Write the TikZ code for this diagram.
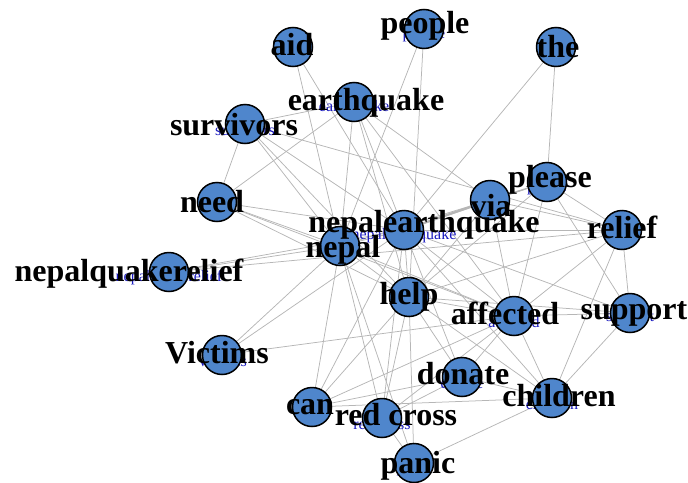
\documentclass[tikz,border=0pt]{standalone}
\usepackage{fontspec}
\setmainfont{Liberation Serif}
\definecolor{vblue}{RGB}{79,134,204}
\definecolor{edgegray}{RGB}{182,182,182}
\definecolor{idblue}{RGB}{25,25,190}
\tikzset{
  vertex/.style={circle, minimum size=39pt, inner sep=0pt, fill=vblue, draw=black, line width=1.5pt},
  link/.style={draw=edgegray, line width=0.75pt},
  heavy/.style={draw=edgegray, line width=2.2pt},
  bigtag/.style={anchor=base, inner sep=0pt, font=\fontsize{32}{32}\selectfont\bfseries},
  smalltag/.style={inner sep=0pt, text=idblue, font=\fontsize{16}{16}\selectfont}
}
\begin{document}
\begin{tikzpicture}[x=1pt,y=-1pt]
\useasboundingbox (0,0) rectangle (688,482);
% vertex positions
\coordinate (aid) at (293,47);
\coordinate (people) at (424,29);
\coordinate (the) at (556,47);
\coordinate (earthquake) at (354,102);
\coordinate (survivors) at (245,124);
\coordinate (need) at (217,202);
\coordinate (nqr) at (169,272);
\coordinate (victims) at (222,355);
\coordinate (can) at (312,407);
\coordinate (nepal) at (340,246);
\coordinate (ne) at (404,230);
\coordinate (help) at (409,297);
\coordinate (affected) at (514,316);
\coordinate (support) at (630,313);
\coordinate (donate) at (462,377);
\coordinate (children) at (552,398);
\coordinate (redcross) at (382,418);
\coordinate (panic) at (414,463);
\coordinate (via) at (490,200);
\coordinate (please) at (547,182);
\coordinate (relief) at (622,230);

% edges
\foreach \a/\b in {aid/nepal, aid/ne, people/nepal, people/help, the/ne, the/please,
  earthquake/survivors, earthquake/need, earthquake/via, earthquake/nepal, earthquake/ne,
  earthquake/help, earthquake/affected,
  survivors/need, survivors/nepal, survivors/ne, survivors/help, survivors/relief,
  need/nepal, need/ne, need/help, need/affected,
  nqr/nepal, nqr/ne, nqr/relief,
  victims/nepal, victims/ne, victims/affected,
  can/nepal, can/help, can/ne, can/affected, can/donate, can/children,
  redcross/help, redcross/ne, redcross/nepal, redcross/donate, redcross/affected, redcross/panic,
  panic/help, panic/children, panic/nepal,
  donate/help, donate/affected, donate/ne, donate/children,
  children/affected, children/support, children/relief, children/help, children/ne,
  affected/support, affected/help, affected/ne, affected/via, affected/please, affected/relief, affected/nepal,
  support/relief, support/please, support/help, support/ne,
  relief/please, relief/via, relief/ne, relief/help,
  please/ne, please/help, via/help, via/nepal,
  nepal/ne, nepal/help, ne/help}
  \draw[link] (\a) -- (\b);
\draw[heavy] (via) -- (ne);
\draw[link, line width=1.3pt] (via) -- (please);

% small vertex ids
\foreach \c/\t in {aid/aid, people/people, the/the, earthquake/earthquake, survivors/survivors,
  need/need, nqr/nepalquakerelief, victims/Victims, can/can, nepal/nepal, ne/nepalearthquake,
  help/help, affected/affected, support/support, donate/donate, children/children,
  redcross/red cross, panic/panic, via/via, please/please, relief/relief}
  \node[smalltag] at ([yshift=-6pt]\c) {\t};

% vertices
\foreach \c in {aid, people, the, earthquake, survivors, need, nqr, victims, can, nepal, ne,
  help, affected, support, donate, children, redcross, panic, via, please, relief}
  \node[vertex] (v-\c) at (\c) {};

% labels
\node[bigtag] (l-aid) at (292,55) {aid};
\node[bigtag] (l-people) at (425,33) {people};
\node[bigtag] (l-the) at (558,57) {the};
\node[bigtag] (l-earthquake) at (366,110) {earthquake};
\node[bigtag] (l-survivors) at (234,135) {survivors};
\node[bigtag] (l-need) at (212,212) {need};
\node[bigtag] (l-ne) at (424,232) {nepalearthquake};
\node[bigtag] (l-nepal) at (343,257) {nepal};
\node[bigtag] (l-nqr) at (129,281) {nepalquakerelief};
\node[bigtag] (l-help) at (409,304) {help};
\node[bigtag] (l-affected) at (505,324) {affected};
\node[bigtag] (l-support) at (634,319) {support};
\node[bigtag] (l-victims) at (217,363) {Victims};
\node[bigtag] (l-donate) at (463,384) {donate};
\node[bigtag] (l-children) at (559,406) {children};
\node[bigtag] (l-can) at (310,414) {can};
\node[bigtag] (l-redcross) at (396,425) {red cross};
\node[bigtag] (l-panic) at (418,473) {panic};
\node[bigtag] (l-relief) at (622,238) {relief};
\node[bigtag] (l-please) at (550,187) {please};
\node[bigtag] (l-via) at (491,216) {via};
\end{tikzpicture}
\end{document}
